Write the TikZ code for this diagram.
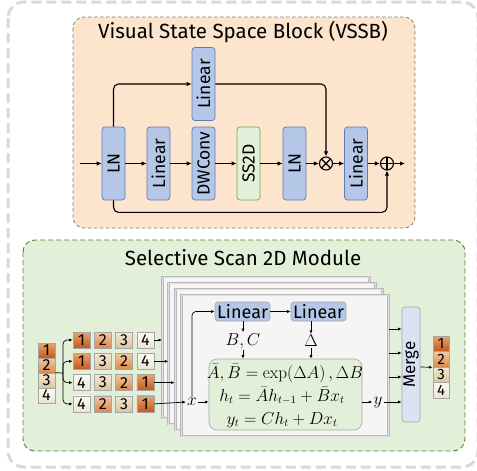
\documentclass[tikz,border=0pt]{standalone}
\usepackage[no-math]{fontspec}
\setmainfont{Fira Sans}
\usetikzlibrary{arrows.meta}
\definecolor{obg}{HTML}{FCE4CD}
\definecolor{gbg}{HTML}{E2F0D9}
\definecolor{gbd}{HTML}{548235}
\definecolor{bfill}{HTML}{B4C7E7}
\definecolor{bbd}{HTML}{5B7DB8}
\definecolor{sgreen}{HTML}{70AD47}
\definecolor{mfill}{HTML}{DAE3F3}
\definecolor{c1t}{HTML}{E9A46C}\definecolor{c1b}{HTML}{C4581A}
\definecolor{c2t}{HTML}{F2C9A2}\definecolor{c2b}{HTML}{D9894C}
\definecolor{c3t}{HTML}{F2E8D6}\definecolor{c3b}{HTML}{DCC59F}
\definecolor{c4t}{HTML}{FCFAF5}\definecolor{c4b}{HTML}{ECE4D2}
\begin{document}
\begin{tikzpicture}[x=1pt,y=-1pt,
  arr/.style={-{Latex[length=5pt,width=4.5pt]}, line width=1.1pt},
  arrs/.style={-{Latex[length=3.5pt,width=3pt]}, line width=0.7pt},
  blk/.style={draw=bbd, fill=bfill, rounded corners=3pt, line width=0.7pt,
    minimum width=23pt, minimum height=73pt, inner sep=0pt},
  vlab/.style={label={[rotate=90,font=\fontsize{17.5}{17.5}\selectfont]center:#1}},
  opnode/.style={circle, draw, line width=1.1pt, minimum size=13pt, inner sep=0pt},
  cellbox/.style={draw=gray!70, line width=0.6pt, minimum width=17pt, minimum height=16pt,
    inner sep=0pt, font=\fontsize{16}{16}\selectfont},
  ocell/.style={draw=gray!70, line width=0.6pt, minimum width=16pt, minimum height=15.5pt,
    inner sep=0pt, font=\fontsize{15}{15}\selectfont},
  k1/.style={top color=c1t, bottom color=c1b},
  k2/.style={top color=c2t, bottom color=c2b},
  k3/.style={top color=c3t, bottom color=c3b},
  k4/.style={top color=c4t, bottom color=c4b},
  panel/.style={draw=gray!55, double=gray!25, double distance=1pt, fill=gray!8, line width=0.9pt,
    minimum width=207pt, minimum height=141pt, inner sep=0pt},
  sblk/.style={draw=gray!70, fill=bfill, rounded corners=3pt, line width=0.6pt,
    minimum width=55pt, minimum height=19pt, inner sep=0pt, font=\fontsize{18}{18}\selectfont},
  mlab/.style={font=\fontsize{17}{17}\selectfont, inner sep=1pt},
  eql/.style={font=\fontsize{16}{16}\selectfont, inner sep=0pt, anchor=base},
]
\useasboundingbox (0,0) rectangle (477,471);
% outer frame
\draw[gray!30, line width=3pt, dash pattern=on 10pt off 5pt, rounded corners=16pt]
  (8,2) rectangle (478,467);
% VSSB
\draw[gray, fill=obg, line width=0.8pt, dash pattern=on 3.5pt off 2.5pt, rounded corners=11pt]
  (73,17) rectangle (415,228);
\node[font=\fontsize{20.5}{20.5}\selectfont] (vt) at (243,32) {Visual State Space Block (VSSB)};
\node[blk, vlab=LN] (ln1) at (113.5,163.5) {};
\node[blk, vlab=Linear] (lin1) at (158.5,163.5) {};
\node[blk, vlab=DWConv] (dw) at (203.5,163.5) {};
\node[blk, vlab=Linear] (lint) at (203.5,84) {};
\node[blk, draw=sgreen, fill=gbg, vlab=SS2D] (ss) at (248.5,163.5) {};
\node[blk, vlab=LN] (ln2) at (294.5,163.5) {};
\node[opnode, path picture={\draw[line width=1.1pt] (path picture bounding box.north west) -- (path picture bounding box.south east)
  (path picture bounding box.north east) -- (path picture bounding box.south west);}] (mul) at (326,163.5) {};
\node[blk, vlab=Linear] (lin3) at (356,163.5) {};
\node[opnode, path picture={\draw[line width=1.1pt] (path picture bounding box.north) -- (path picture bounding box.south)
  (path picture bounding box.east) -- (path picture bounding box.west);}] (add) at (387,163.5) {};
\coordinate (vin) at (80,163.5);
\coordinate (vout) at (405,163.5);
\draw[arr] (vin) -- (ln1);
\draw[arr] (ln1) -- (lin1);
\draw[arr] (lin1) -- (dw);
\draw[arr] (dw) -- (ss);
\draw[arr] (ss) -- (ln2);
\draw[arr] (ln2) -- (mul);
\draw[arr] (mul) -- (lin3);
\draw[arr] (lin3) -- (add);
\draw[arr] (add) -- (vout);
\draw[arr, rounded corners=5pt] (ln1.north) |- (lint.west);
\draw[arr, rounded corners=5pt] (lint.east) -| (mul.north);
\draw[arr, rounded corners=5pt] (ln1.south) -- ++(0,12) -| (add.south);
% SS2D module
\draw[gbd, fill=gbg, line width=0.9pt, dash pattern=on 5pt off 3pt, rounded corners=12pt]
  (23,240) rectangle (465,451);
\node[font=\fontsize{20.5}{20.5}\selectfont] (st) at (243,258) {Selective Scan 2D Module};
\node[panel] (p1) at (266,347.5) {};
\node[panel] (p2) at (272.3,353.5) {};
\node[panel] (p3) at (278.6,359.5) {};
\node[panel] (p4) at (285,365.5) {};
\node[sblk] (l1) at (242.5,311.5) {Linear};
\node[sblk] (l2) at (318.5,311.5) {Linear};
\node[draw=gray!70, fill=gbg, rounded corners=8pt, line width=0.6pt, minimum width=153pt,
  minimum height=71pt, inner sep=0pt] (eq) at (285.5,394.5) {};
\node[eql] (e1) at (285,378) {$\bar{A},\bar{B}=\exp(\Delta A)\,,\Delta B$};
\node[eql] (e2) at (282,401) {$h_t=\bar{A}h_{t-1}+\bar{B}x_t$};
\node[eql] (e3) at (282,424) {$y_t=Ch_t+Dx_t$};
\node[mlab] (bc) at (243,341) {$B,C$};
\node[mlab] (dl) at (311,341) {$\Delta$};
\node[mlab] (xl) at (192,402) {$x$};
\node[mlab] (yl) at (378,402) {$y$};
\node[draw=gray!70, fill=mfill, rounded corners=3pt, line width=0.6pt, minimum width=18pt,
  minimum height=115pt, inner sep=0pt, label={[rotate=90,font=\fontsize{17}{17}\selectfont]center:Merge}] (mg) at (411,364.5) {};
\draw[arrs] (l1) -- (l2);
\draw[arrs] (l1.south -| bc) -- (bc);
\draw[arrs] (bc) -- (bc |- eq.north);
\draw[arrs] (l2.south -| dl) -- (dl);
\draw[arrs] (dl) -- (dl |- eq.north);
\draw[arrs] (xl) -- (eq.west |- xl);
\draw[arrs, rounded corners=4pt] (xl.north) |- (l1.west);
\draw[arrs] (eq.east |- yl) -- (yl);
\draw[arrs] (yl) -- (yl -| mg.west);
\foreach \yy in {329,353,377}{
  \draw[arrs] (p4.east |- 0,\yy) -- (mg.west |- 0,\yy);
}
% input stack
\node[cellbox, k1, minimum height=15pt] (i1) at (46.5,350.5) {1};
\node[cellbox, k2, minimum height=15pt] (i2) at (46.5,365.5) {2};
\node[cellbox, k3, minimum height=15pt] (i3) at (46.5,380.5) {3};
\node[cellbox, k4, minimum height=15pt] (i4) at (46.5,395.5) {4};
\coordinate (br) at (63,373);
\draw[line width=0.7pt] (i3.north east) -- (br);
% rows
\foreach \r/\a/\b/\c/\d in {1/1/2/3/4, 2/1/3/2/4, 3/4/3/2/1, 4/4/2/3/1}{
  \pgfmathsetmacro{\yy}{340+21.3*(\r-1)}
  \node[cellbox, k\a] (c\r1) at (81.5,\yy) {\a};
  \node[cellbox, k\b] (c\r2) at (102.8,\yy) {\b};
  \node[cellbox, k\c] (c\r3) at (124.1,\yy) {\c};
  \node[cellbox, k\d] (c\r4) at (145.4,\yy) {\d};
  \draw[arrs, rounded corners=4pt] (br) |- (c\r1.west);
}
\draw[arrs] (c14.east) -- (c14.east -| p1.west);
\draw[arrs] (c24.east) -- (c24.east -| p2.west);
\draw[arrs] (c34.east) -- (c34.east -| p3.west);
\draw[arrs] (c44.east) -- (xl.west);
% output stack
\node[ocell, k1] (o1) at (441,343.75) {1};
\node[ocell, k2] (o2) at (441,359.25) {2};
\node[ocell, k3] (o3) at (441,374.75) {3};
\node[ocell, k4] (o4) at (441,390.25) {4};
\draw[arrs] (mg.east |- 0,367) -- (o2.south west);
\end{tikzpicture}
\end{document}
